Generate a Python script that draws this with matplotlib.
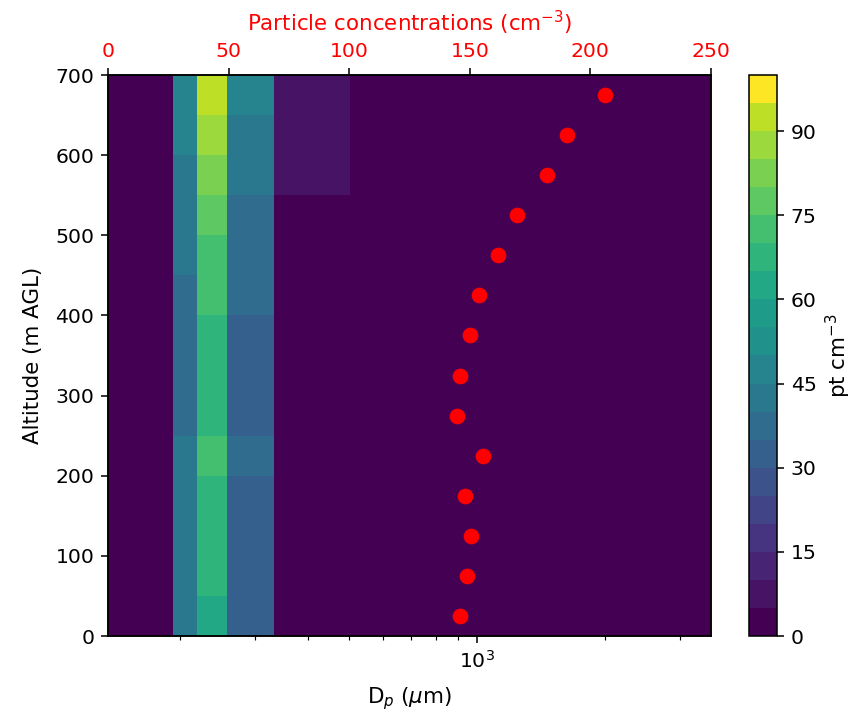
import numpy as np
import matplotlib
matplotlib.use("Agg")
import matplotlib.pyplot as plt
from matplotlib.colors import BoundaryNorm, ListedColormap

# Size-bin edges (µm) and altitude-bin edges (m AGL)
dp_edges = [135.6, 192.9, 219.0, 258.1, 333.4, 502.3, 3550.0]
alt_edges = list(range(0, 701, 50))

# Concentrations per altitude bin (rows bottom->top), per size bin (columns)
col0 = [0, 0, 0, 0, 0, 0, 0, 0, 0, 0, 0, 0, 0, 0]
col1 = [42, 42, 42, 42, 42, 37, 37, 37, 37, 42, 42, 42, 47, 47]
col2 = [62, 67, 67, 67, 72, 67, 67, 67, 72, 72, 77, 82, 87, 92]
col3 = [32, 32, 32, 32, 37, 32, 32, 32, 37, 37, 37, 42, 42, 47]
col4 = [0, 0, 0, 0, 0, 0, 0, 0, 0, 0, 0, 7, 7, 7]
col5 = [0, 0, 0, 0, 0, 0, 0, 0, 0, 0, 0, 0, 0, 0]

# Total particle concentration profile (cm^-3) at bin centres
alt_centres = [25, 75, 125, 175, 225, 275, 325, 375, 425, 475, 525, 575, 625, 675]
total_conc = [146.1, 148.7, 150.5, 148.0, 155.6, 144.8, 146.1, 150.0, 153.7,
              161.8, 169.4, 182.0, 190.3, 206.1]

levels = np.arange(0, 101, 5)
cbar_ticks = [0, 15, 30, 45, 60, 75, 90]

Z = np.array([col0, col1, col2, col3, col4, col5]).T

DPI = 140
W, H = 855, 718
fig = plt.figure(figsize=(W / DPI, H / DPI), dpi=DPI)
ax = fig.add_axes([108 / W, 1 - 636 / H, (711 - 108) / W, (636 - 75) / H])
cax = fig.add_axes([749 / W, 1 - 636 / H, (777 - 749) / W, (636 - 75) / H])

# 21-colour viridis mapped onto 20 bands
base = plt.get_cmap("viridis", 21)
nb = len(levels) - 1
band_colors = [base(int(k * 20 / (nb - 1))) for k in range(nb)]
cmap = ListedColormap(band_colors)
norm = BoundaryNorm(levels, nb)

LAB = 11
TICK = 10.5

mesh = ax.pcolormesh(dp_edges, alt_edges, Z, cmap=cmap, norm=norm, shading="flat")
ax.set_xscale("log")
ax.set_xlim(dp_edges[0], dp_edges[-1])
ax.set_ylim(0, 700)
ax.set_yticks(range(0, 701, 100))
ax.set_xlabel(r"D$_p$ ($\mu$m)", fontsize=LAB, labelpad=7)
ax.set_ylabel("Altitude (m AGL)", fontsize=LAB, labelpad=6.5)
ax.tick_params(labelsize=TICK)

ax2 = ax.twiny()
ax2.scatter(total_conc, alt_centres, s=50, color="red", zorder=3)
ax2.set_xlim(0, 250)
ax2.set_xlabel(r"Particle concentrations (cm$^{-3}$)", color="red",
               fontsize=LAB, labelpad=6)
ax2.tick_params(axis="x", labelcolor="red", labelsize=TICK)

cb = fig.colorbar(mesh, cax=cax, ticks=cbar_ticks)
cb.minorticks_off()
cb.set_label(r"pt cm$^{-3}$", fontsize=LAB)
cb.ax.tick_params(labelsize=TICK)

fig.savefig("out.png", dpi=DPI)
